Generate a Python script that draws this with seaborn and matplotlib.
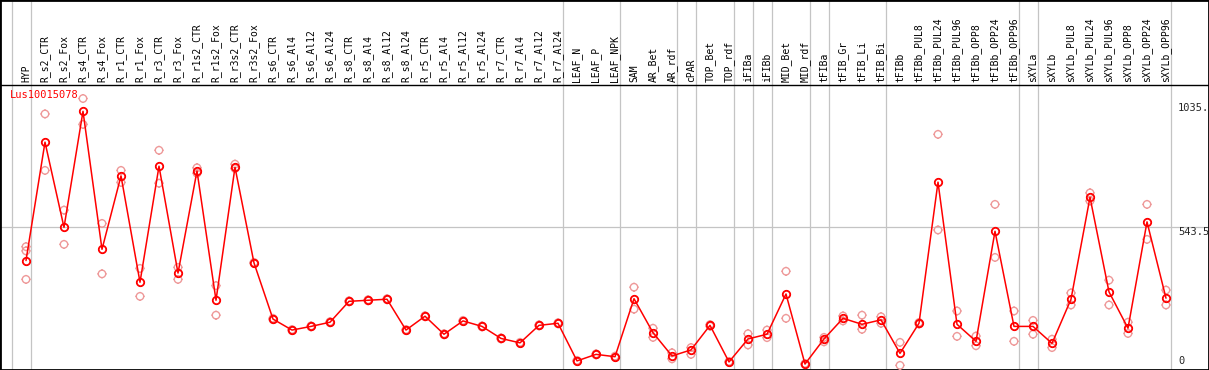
import numpy as np
import pandas as pd
import matplotlib
matplotlib.use("Agg")
import matplotlib.pyplot as plt
import matplotlib.transforms as mtransforms
from matplotlib.path import Path
import seaborn as sns

# ─── Data ─────────────────────────────────────────────────
gene = "Lus10015078"

samples = [
    "HYP", "R_s2_CTR", "R_s2_Fox", "R_s4_CTR", "R_s4_Fox", "R_r1_CTR", "R_r1_Fox",
    "R_r3_CTR", "R_r3_Fox", "R_r1s2_CTR", "R_r1s2_Fox", "R_r3s2_CTR", "R_r3s2_Fox",
    "R_s6_CTR", "R_s6_Al4", "R_s6_Al12", "R_s6_Al24", "R_s8_CTR", "R_s8_Al4",
    "R_s8_Al12", "R_s8_Al24", "R_r5_CTR", "R_r5_Al4", "R_r5_Al12", "R_r5_Al24",
    "R_r7_CTR", "R_r7_Al4", "R_r7_Al12", "R_r7_Al24", "LEAF_N", "LEAF_P", "LEAF_NPK",
    "SAM", "AR_Bet", "AR_rdf", "cPAR", "TOP_Bet", "TOP_rdf", "iFIBa", "iFIBb",
    "MID_Bet", "MID_rdf", "tFIBa", "tFIB_Gr", "tFIB_Li", "tFIB_Bi", "tFIBb",
    "tFIBb_PUL8", "tFIBb_PUL24", "tFIBb_PUL96", "tFIBb_OPP8", "tFIBb_OPP24",
    "tFIBb_OPP96", "sXYLa", "sXYLb", "sXYLb_PUL8", "sXYLb_PUL24", "sXYLb_PUL96",
    "sXYLb_OPP8", "sXYLb_OPP24", "sXYLb_OPP96",
]

mean_expr = [
    415, 868, 542, 986, 458, 739, 332, 776, 367, 758, 263, 772, 406,
    191, 149, 163, 179, 259, 263, 267, 149, 202, 133, 184, 163, 117, 100, 167, 175,
    31, 56, 47,
    269, 139, 50, 73, 167, 27, 115, 133, 287, 19, 115, 194, 171, 188,
    60, 175, 715, 171, 106, 527, 163,
    163, 98, 267, 657, 295, 156, 563, 271,
]

rep_a = [
    468, 976, 608, 1035, 557, 760, 385, 837, 389, 770, 319, 784, 404,
    189, 147, 161, 177, 257, 261, 265, 147, 200, 131, 182, 161, 115, 98, 165, 173,
    29, 54, 45,
    313, 156, 62, 82, 170, 25, 135, 149, 374, 17, 121, 203, 206, 200,
    102, 178, 898, 222, 126, 630, 222,
    186, 114, 291, 674, 340, 179, 630, 302,
]

rep_b = [
    343, 760, 477, 936, 364, 714, 278, 711, 343, 749, 206, 767, 408,
    194, 151, 165, 181, 261, 265, 269, 151, 204, 135, 186, 165, 119, 102, 169, 177,
    33, 58, 49,
    229, 121, 39, 56, 164, 29, 92, 120, 194, 21, 104, 184, 152, 175,
    14, 172, 532, 125, 89, 427, 106,
    133, 82, 245, 643, 245, 136, 496, 245,
]

# third replicate only shows up for HYP
rep_c = [452] + [np.nan] * (len(samples) - 1)

y_ticks = [0, 543.5, 1035]
y_tick_labels = ["0", "543.5", "1035."]

# ─── Style ────────────────────────────────────────────────
RED = "#FF0000"
PINK = "#EE9999"
GRID = "#C4C4C4"

sns.set_theme(style="white")
plt.rcParams["font.family"] = ["DejaVu Sans Mono", "DejaVu Sans"]
plt.rcParams["path.simplify"] = False

# circle with four short ticks, like the original glyph
t = np.linspace(0, 2 * np.pi, 41)
circ_v = np.column_stack([np.cos(t), np.sin(t)])
circ_c = [Path.MOVETO] + [Path.LINETO] * 39 + [Path.CLOSEPOLY]
TK = 1.22
tick_v = [(0, 1), (0, TK), (0, -1), (0, -TK), (1, 0), (TK, 0), (-1, 0), (-TK, 0)]
tick_c = [Path.MOVETO, Path.LINETO] * 4
MARK = Path(np.vstack([circ_v, tick_v]), circ_c + tick_c)

# ─── Layout (pixel geometry of the 1209x370 picture) ──────
W, H = 1209, 370
X0, DX = 26, 19          # first column centre, column spacing
Y_BOT, Y_TOP = 369, 85   # pixel rows of value 0 and of the top of scale
YMAX = 1035 * 1.05
S = YMAX / (Y_BOT - Y_TOP)

fig = plt.figure(figsize=(W / 100, H / 100), dpi=100)
ax = fig.add_axes([0, 0, 1, 1])
ax.set_xlim(-X0 / DX, (W - X0) / DX)
ax.set_ylim((Y_BOT - H) * S, Y_BOT * S)

idx = np.arange(len(samples))
df = pd.DataFrame({"idx": idx, "sample": samples, "mean": mean_expr})
reps = pd.DataFrame({
    "idx": np.concatenate([idx, idx, idx]),
    "value": rep_a + rep_b + rep_c,
}).dropna()

# group separators
group_ends = [-1, 0, 28, 31, 34, 35, 37, 38, 39, 41, 42, 45, 52, 53, 60]
for g in group_ends:
    ax.axvline(g + 0.24, color=GRID, lw=0.9, zorder=1)
ax.axhline(543.5, color=GRID, lw=0.9, zorder=1)
ax.axhline(YMAX, color="black", lw=1.0, zorder=2)

# replicates
sns.scatterplot(data=reps, x="idx", y="value", marker=MARK, s=42,
                facecolor="none", edgecolor=PINK, linewidth=1.0,
                legend=False, ax=ax, zorder=3)

# means
sns.lineplot(data=df, x="idx", y="mean", color=RED, lw=1.1,
             marker=MARK, markersize=6.5, markerfacecolor="none",
             markeredgecolor=RED, markeredgewidth=1.3,
             legend=False, ax=ax, zorder=4)

# sample labels in the header
for i, name in zip(idx, samples):
    ax.text(i, YMAX + 3 * S, name, rotation=90, ha="center", va="bottom",
            fontsize=7, color="black")

# right-hand value labels
trans = mtransforms.blended_transform_factory(ax.transAxes, ax.transData)
for val, lab in zip(y_ticks, y_tick_labels):
    if val == 0:
        ax.annotate(lab, xy=(1178 / W, val), xycoords=trans, xytext=(0, 3),
                    textcoords="offset pixels", ha="left", va="bottom", fontsize=7.5)
    else:
        off = -4 if val == max(y_ticks) else 0
        ax.annotate(lab, xy=(1178 / W, val), xycoords=trans, xytext=(0, off),
                    textcoords="offset pixels", ha="left", va="top", fontsize=7.5)

ax.annotate(gene, xy=(10 / W, YMAX), xycoords=trans, xytext=(0, -5),
            textcoords="offset pixels", ha="left", va="top", fontsize=7.5, color=RED)

ax.set_xlabel("")
ax.set_ylabel("")
ax.set_xticks([])
ax.set_yticks([])
for sp in ax.spines.values():
    sp.set_visible(True)
    sp.set_color("black")
    sp.set_linewidth(2)

fig.savefig("out.png", dpi=100)
